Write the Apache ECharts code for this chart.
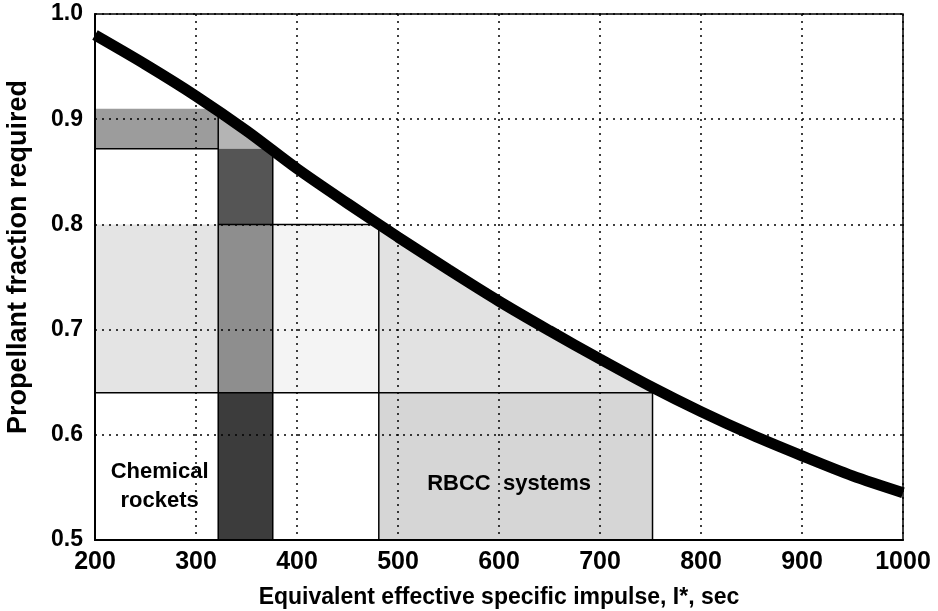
<!DOCTYPE html>
<html>
<head>
<meta charset="utf-8">
<script src="https://cdn.jsdelivr.net/npm/echarts@6/dist/echarts.min.js"></script>
<style>
  html, body { margin: 0; padding: 0; background: #fff; }
  #chart { width: 938px; height: 611px; }
</style>
</head>
<body>
<div id="chart"></div>
<script>
// curve: propellant fraction vs equivalent effective Isp
var impulse = [200, 250, 300, 350, 400, 450, 500, 550, 600, 650, 700, 750, 800, 850, 900, 950, 1000];
var fraction = [0.980, 0.952, 0.922, 0.889, 0.853, 0.820, 0.788, 0.757, 0.727, 0.699, 0.672, 0.646, 0.622, 0.600, 0.580, 0.561, 0.545];

// shaded zones [x0, x1, y0, y1], clipped under the curve
var regions = [
  [200, 322, 0.872, 0.910],
  [322, 376, 0.872, 0.910],
  [322, 376, 0.800, 0.872],
  [322, 376, 0.640, 0.800],
  [322, 376, 0.500, 0.640],
  [200, 322, 0.640, 0.800],
  [376, 481, 0.640, 0.800],
  [481, 752, 0.640, 0.800],
  [481, 752, 0.500, 0.640]
];
var regionShades = ['#9c9c9c', '#b4b4b4', '#555555', '#8e8e8e', '#3c3c3c', '#e4e4e4', '#f4f4f4', '#e2e2e2', '#d6d6d6'];

// solid edges [x0, y0, x1, y1]
var edges = [
  [200, 0.872, 322, 0.872],
  [322, 0.800, 481, 0.800],
  [200, 0.640, 752, 0.640],
  [322, 0.500, 322, 0.910],
  [376, 0.500, 376, 0.872],
  [481, 0.500, 481, 0.800],
  [752, 0.500, 752, 0.640]
];

var noteTexts = ['Chemical\nrockets', 'RBCC  systems'];
var noteX = [264, 610];
var noteY = [0.551, 0.553];

function curveAt(x) {
  for (var i = 1; i < impulse.length; i++) {
    if (x <= impulse[i]) {
      var t = (x - impulse[i - 1]) / (impulse[i] - impulse[i - 1]);
      return fraction[i - 1] + t * (fraction[i] - fraction[i - 1]);
    }
  }
  return fraction[fraction.length - 1];
}

var font = '"Liberation Sans", Arial, Helvetica, sans-serif';
var chart = echarts.init(document.getElementById('chart'));

var option = {
  animation: false,
  grid: { left: 95, right: 35, top: 14, bottom: 71, show: false, containLabel: false, outerBoundsMode: 'none' },
  xAxis: {
    type: 'value',
    min: 200,
    max: 1000,
    interval: 100,
    name: 'Equivalent effective specific impulse, I*, sec',
    nameLocation: 'middle',
    nameGap: 46,
    nameTextStyle: { fontFamily: font, fontWeight: 'bold', fontSize: 23, color: '#000' },
    axisLine: { show: true, onZero: false, lineStyle: { color: '#000', width: 2 } },
    axisTick: { show: false },
    axisLabel: {
      fontFamily: font, fontWeight: 'bold', fontSize: 25, color: '#000', margin: 10,
      formatter: function (v) { return String(v); }
    },
    splitLine: { show: true, lineStyle: { color: '#000', width: 1.5, type: [2, 5] } }
  },
  yAxis: {
    type: 'value',
    min: 0.5,
    max: 1.0,
    interval: 0.1,
    name: 'Propellant fraction required',
    nameLocation: 'middle',
    nameGap: 63,
    nameTextStyle: { fontFamily: font, fontWeight: 'bold', fontSize: 27, color: '#000', padding: [0, 0, 0, 40] },
    axisLine: { show: true, onZero: false, lineStyle: { color: '#000', width: 2 } },
    axisTick: { show: false },
    axisLabel: {
      fontFamily: font, fontWeight: 'bold', fontSize: 23, color: '#000', margin: 12,
      formatter: function (v) { return v.toFixed(1); }
    },
    splitLine: { show: true, lineStyle: { color: '#000', width: 1.5, type: [2, 5] } }
  },
  series: [
    {
      type: 'custom',
      z: -1,
      clip: true,
      data: regions,
      renderItem: function (params, api) {
        var r = regions[params.dataIndex];
        var pts = [api.coord([r[0], r[2]]), api.coord([r[1], r[2]])];
        var n = 30;
        for (var k = n; k >= 0; k--) {
          var x = r[0] + (r[1] - r[0]) * k / n;
          var top = Math.min(r[3], curveAt(x));
          if (top < r[2]) top = r[2];
          pts.push(api.coord([x, top]));
        }
        return {
          type: 'polygon',
          shape: { points: pts },
          style: { fill: regionShades[params.dataIndex] }
        };
      }
    },
    {
      type: 'custom',
      z: 3,
      data: edges,
      renderItem: function (params, api) {
        var e = edges[params.dataIndex];
        var p0 = api.coord([e[0], e[1]]);
        var p1 = api.coord([e[2], e[3]]);
        return {
          type: 'line',
          shape: { x1: p0[0], y1: p0[1], x2: p1[0], y2: p1[1] },
          style: { stroke: '#000', lineWidth: 1.5 }
        };
      }
    },
    {
      type: 'line',
      z: 5,
      smooth: 0.3,
      symbol: 'none',
      lineStyle: { color: '#000', width: 11 },
      data: impulse.map(function (x, i) { return [x, fraction[i]]; })
    },
    {
      type: 'custom',
      z: 6,
      data: noteTexts,
      renderItem: function (params, api) {
        var p = api.coord([noteX[params.dataIndex], noteY[params.dataIndex]]);
        return {
          type: 'text',
          x: p[0],
          y: p[1],
          style: {
            text: noteTexts[params.dataIndex],
            fill: '#000',
            font: 'bold 22px ' + font,
            align: 'center',
            verticalAlign: 'middle',
            lineHeight: 29
          }
        };
      }
    }
  ],
  graphic: [
    {
      type: 'rect',
      shape: { x: 95, y: 14, width: 808, height: 526 },
      style: { fill: 'none', stroke: '#000', lineWidth: 1.5 },
      z: 10,
      silent: true
    }
  ]
};

chart.setOption(option);
</script>
</body>
</html>
